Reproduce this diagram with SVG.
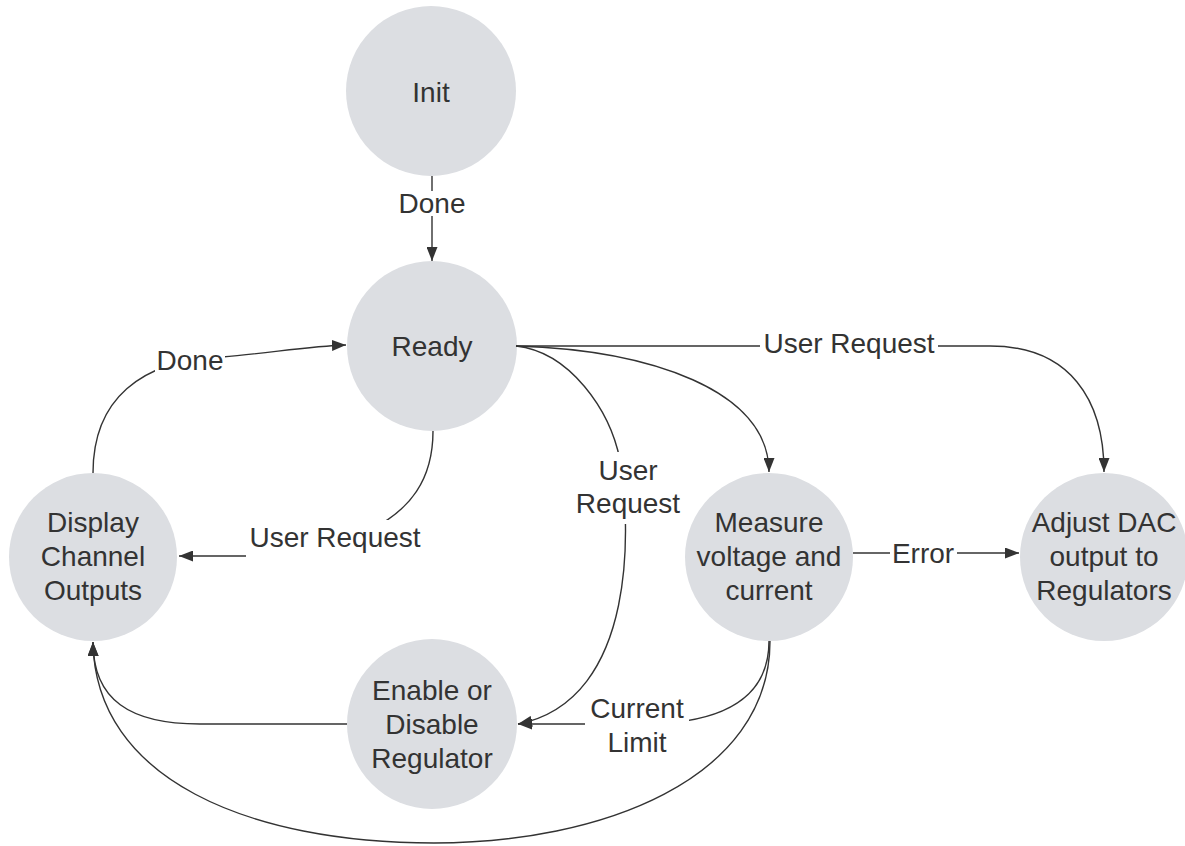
<svg xmlns="http://www.w3.org/2000/svg" width="1185" height="846" viewBox="0 0 1185 846">
  <style>
    .node circle { fill: #dcdee2; }
    text { font-family: "Liberation Sans", Arial, sans-serif; font-size: 28px; fill: #333333; text-anchor: middle; }
    .edge { fill: none; stroke: #333333; stroke-width: 1.4; }
    .bg { fill: #ffffff; }
  </style>
  <defs>
    <marker id="arrow" markerUnits="userSpaceOnUse" markerWidth="15" markerHeight="11" refX="14" refY="5.5" orient="auto">
      <path d="M0,0 L14,5.5 L0,11 z" fill="#333333"/>
    </marker>
  </defs>
  <rect width="1185" height="846" fill="#ffffff"/>

  <!-- state nodes -->
  <g id="init" class="node">
    <circle cx="431" cy="91" r="85"/>
    <text x="431" y="102">Init</text>
  </g>
  <g id="ready" class="node">
    <circle cx="432" cy="346" r="85"/>
    <text x="432" y="356">Ready</text>
  </g>
  <g id="display" class="node">
    <circle cx="93" cy="557" r="84"/>
    <text x="93" y="532">Display</text>
    <text x="93" y="566">Channel</text>
    <text x="93" y="600">Outputs</text>
  </g>
  <g id="measure" class="node">
    <circle cx="769" cy="557" r="84"/>
    <text x="769" y="532">Measure</text>
    <text x="769" y="566">voltage and</text>
    <text x="769" y="600">current</text>
  </g>
  <g id="adjust" class="node">
    <circle cx="1104" cy="557" r="84"/>
    <text x="1104" y="532">Adjust DAC</text>
    <text x="1104" y="566">output to</text>
    <text x="1104" y="600">Regulators</text>
  </g>
  <g id="enable" class="node">
    <circle cx="432" cy="724" r="85"/>
    <text x="432" y="700">Enable or</text>
    <text x="432" y="734">Disable</text>
    <text x="432" y="768">Regulator</text>
  </g>

  <!-- transitions -->
  <g id="connectors">
    <path class="edge" d="M432,176 L432,261" marker-end="url(#arrow)"/>
    <path class="edge" d="M93,473 C93,400 140,360 222,357 C270,353 310,346 346,345" marker-end="url(#arrow)"/>
    <path class="edge" d="M433,431 C433,480 410,510 370,530 C330,550 290,556 250,556 L179,556" marker-end="url(#arrow)"/>
    <path class="edge" d="M516,346 L990,346 C1070,346 1104,400 1104,472" marker-end="url(#arrow)"/>
    <path class="edge" d="M516,346 C650,350 769,390 769,472" marker-end="url(#arrow)"/>
    <path class="edge" d="M516,346 C570,352 610,410 620,460 C630,520 640,700 518,724" marker-end="url(#arrow)"/>
    <path class="edge" d="M853,553 L1019,553" marker-end="url(#arrow)"/>
    <path class="edge" d="M769,641 C769,700 720,724 640,724 L518,724" marker-end="url(#arrow)"/>
    <path class="edge" d="M347,724 L200,724 C130,724 93,700 93,642" marker-end="url(#arrow)"/>
    <path class="edge" d="M770,641 C770,780 600,843 434,843 C250,843 95,780 93,642" marker-end="url(#arrow)"/>

    <!-- transition labels -->
    <g id="labels">
      <rect class="bg" x="400" y="191" width="64" height="25"/>
      <text x="432" y="213">Done</text>
      <rect class="bg" x="155" y="343" width="70" height="29"/>
      <text x="190" y="370">Done</text>
      <rect class="bg" x="246" y="520" width="178" height="38"/>
      <text x="335" y="547">User Request</text>
      <rect class="bg" x="760" y="326" width="178" height="36"/>
      <text x="849" y="353">User Request</text>
      <rect class="bg" x="572" y="452" width="112" height="72"/>
      <text x="628" y="480">User</text>
      <text x="628" y="513">Request</text>
      <rect class="bg" x="890" y="540" width="67" height="26"/>
      <text x="923" y="563">Error</text>
      <rect class="bg" x="585" y="690" width="104" height="70"/>
      <text x="637" y="718">Current</text>
      <text x="637" y="752">Limit</text>
    </g>
  </g>
</svg>
